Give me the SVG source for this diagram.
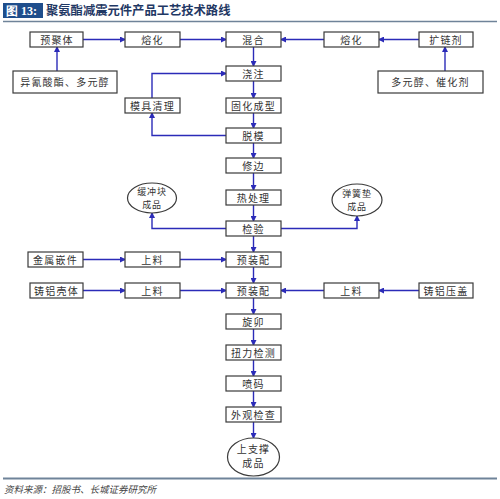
<svg xmlns="http://www.w3.org/2000/svg" width="500" height="499" viewBox="0 0 500 499">
<style>
.bx{fill:#fff;stroke:#3a3a3a;stroke-width:1.2}
.t{font-family:"Noto Sans CJK SC","Noto Sans",sans-serif;font-size:10px;fill:#333;text-anchor:middle;letter-spacing:1.2px}
.e{font-family:"Noto Sans CJK SC","Noto Sans",sans-serif;font-size:9px;fill:#333;text-anchor:middle;letter-spacing:0.8px}
.c{fill:none;stroke:#2b2bb8;stroke-width:1.4}
</style>
<defs>
<marker id="ah" markerWidth="6" markerHeight="6" refX="5" refY="3" orient="auto" markerUnits="userSpaceOnUse">
<path d="M0,0 L6,3 L0,6 Z" fill="#2b2bb8"/>
</marker>
</defs>
<rect width="500" height="499" fill="#fff"/>
<g id="title">
<rect x="3" y="3" width="40" height="15" fill="#1f4e8c"/>
<text x="6" y="15" font-family="Liberation Serif,serif" font-size="12" font-weight="bold" fill="#fff">图 13:</text>
<text x="46" y="15" font-family="Noto Sans CJK SC,sans-serif" font-size="12.3" font-weight="bold" fill="#1f3864">聚氨酯减震元件产品工艺技术路线</text>
<line x1="3" y1="21.5" x2="497" y2="21.5" stroke="#6f8399" stroke-width="1.5"/>
</g>
<g id="connectors">
<line class="c" x1="83" y1="39.5" x2="125" y2="39.5" marker-end="url(#ah)"/>
<line class="c" x1="180" y1="39.5" x2="226" y2="39.5" marker-end="url(#ah)"/>
<line class="c" x1="419" y1="39.5" x2="379" y2="39.5" marker-end="url(#ah)"/>
<line class="c" x1="324" y1="39.5" x2="281" y2="39.5" marker-end="url(#ah)"/>
<line class="c" x1="57" y1="71" x2="57" y2="47" marker-end="url(#ah)"/>
<line class="c" x1="445" y1="71" x2="445" y2="47" marker-end="url(#ah)"/>
<line class="c" x1="253.5" y1="47" x2="253.5" y2="66" marker-end="url(#ah)"/>
<line class="c" x1="253.5" y1="81" x2="253.5" y2="98" marker-end="url(#ah)"/>
<line class="c" x1="253.5" y1="113" x2="253.5" y2="128" marker-end="url(#ah)"/>
<line class="c" x1="253.5" y1="143" x2="253.5" y2="158" marker-end="url(#ah)"/>
<line class="c" x1="253.5" y1="173" x2="253.5" y2="190" marker-end="url(#ah)"/>
<line class="c" x1="253.5" y1="205" x2="253.5" y2="221" marker-end="url(#ah)"/>
<line class="c" x1="253.5" y1="236" x2="253.5" y2="252" marker-end="url(#ah)"/>
<line class="c" x1="253.5" y1="267" x2="253.5" y2="283" marker-end="url(#ah)"/>
<line class="c" x1="253.5" y1="298" x2="253.5" y2="314" marker-end="url(#ah)"/>
<line class="c" x1="253.5" y1="329" x2="253.5" y2="345" marker-end="url(#ah)"/>
<line class="c" x1="253.5" y1="360" x2="253.5" y2="376" marker-end="url(#ah)"/>
<line class="c" x1="253.5" y1="391" x2="253.5" y2="407" marker-end="url(#ah)"/>
<line class="c" x1="253.5" y1="422" x2="253.5" y2="438" marker-end="url(#ah)"/>
<polyline class="c" points="226,135.5 152,135.5 152,113" marker-end="url(#ah)"/>
<polyline class="c" points="152,98 152,73.5 226,73.5" marker-end="url(#ah)"/>
<polyline class="c" points="226,228.5 152,228.5 152,213" marker-end="url(#ah)"/>
<polyline class="c" points="281,228.5 357,228.5 357,216" marker-end="url(#ah)"/>
<line class="c" x1="83" y1="259.5" x2="125" y2="259.5" marker-end="url(#ah)"/>
<line class="c" x1="180" y1="259.5" x2="226" y2="259.5" marker-end="url(#ah)"/>
<line class="c" x1="83" y1="290.5" x2="125" y2="290.5" marker-end="url(#ah)"/>
<line class="c" x1="180" y1="290.5" x2="226" y2="290.5" marker-end="url(#ah)"/>
<line class="c" x1="419" y1="290.5" x2="379" y2="290.5" marker-end="url(#ah)"/>
<line class="c" x1="324" y1="290.5" x2="281" y2="290.5" marker-end="url(#ah)"/>
</g>
<g id="n-yujuti"><rect class="bx" x="30" y="32" width="53" height="15"/><text class="t" x="57" y="43.5">预聚体</text></g>
<g id="n-ronghua1"><rect class="bx" x="125" y="32" width="55" height="15"/><text class="t" x="152.5" y="43.5">熔化</text></g>
<g id="n-hunhe"><rect class="bx" x="226" y="32" width="55" height="15"/><text class="t" x="253.5" y="43.5">混合</text></g>
<g id="n-ronghua2"><rect class="bx" x="324" y="32" width="55" height="15"/><text class="t" x="351.5" y="43.5">熔化</text></g>
<g id="n-kuolianji"><rect class="bx" x="419" y="32" width="54" height="15"/><text class="t" x="446" y="43.5">扩链剂</text></g>
<g id="n-yiqing"><rect class="bx" x="13" y="71" width="104" height="22"/><text class="t" x="65" y="86">异氰酸酯、多元醇</text></g>
<g id="n-duoyuan"><rect class="bx" x="378" y="71" width="105" height="22"/><text class="t" x="430.5" y="86">多元醇、催化剂</text></g>
<g id="n-jiaozhu"><rect class="bx" x="226" y="66" width="55" height="15"/><text class="t" x="253.5" y="77.5">浇注</text></g>
<g id="n-muju"><rect class="bx" x="125" y="98" width="55" height="15"/><text class="t" x="152.5" y="109.5">模具清理</text></g>
<g id="n-guhua"><rect class="bx" x="226" y="98" width="55" height="15"/><text class="t" x="253.5" y="109.5">固化成型</text></g>
<g id="n-tuomo"><rect class="bx" x="226" y="128" width="55" height="15"/><text class="t" x="253.5" y="139.5">脱模</text></g>
<g id="n-xiubian"><rect class="bx" x="226" y="158" width="55" height="15"/><text class="t" x="253.5" y="169.5">修边</text></g>
<g id="n-rechuli"><rect class="bx" x="226" y="190" width="55" height="15"/><text class="t" x="253.5" y="201.5">热处理</text></g>
<g id="n-jianyan"><rect class="bx" x="226" y="221" width="55" height="15"/><text class="t" x="253.5" y="232.5">检验</text></g>
<g id="n-huanchong"><ellipse class="bx" cx="152" cy="198" rx="24.5" ry="15"/><text class="e" x="152" y="195">缓冲块</text><text class="e" x="152" y="207.5">成品</text></g>
<g id="n-tanhuang"><ellipse class="bx" cx="357" cy="200" rx="25" ry="16"/><text class="e" x="357" y="197">弹簧垫</text><text class="e" x="357" y="209.5">成品</text></g>
<g id="n-jinshu"><rect class="bx" x="28" y="252" width="55" height="15"/><text class="t" x="55.5" y="263.5">金属嵌件</text></g>
<g id="n-shangliao1"><rect class="bx" x="125" y="252" width="55" height="15"/><text class="t" x="152.5" y="263.5">上料</text></g>
<g id="n-yuzhuang1"><rect class="bx" x="226" y="252" width="55" height="15"/><text class="t" x="253.5" y="263.5">预装配</text></g>
<g id="n-zhulvketi"><rect class="bx" x="30" y="283" width="53" height="15"/><text class="t" x="56.5" y="294.5">铸铝壳体</text></g>
<g id="n-shangliao2"><rect class="bx" x="125" y="283" width="55" height="15"/><text class="t" x="152.5" y="294.5">上料</text></g>
<g id="n-yuzhuang2"><rect class="bx" x="226" y="283" width="55" height="15"/><text class="t" x="253.5" y="294.5">预装配</text></g>
<g id="n-shangliao3"><rect class="bx" x="324" y="283" width="55" height="15"/><text class="t" x="351.5" y="294.5">上料</text></g>
<g id="n-zhulvyagai"><rect class="bx" x="419" y="283" width="54" height="15"/><text class="t" x="446" y="294.5">铸铝压盖</text></g>
<g id="n-xuanmao"><rect class="bx" x="226" y="314" width="55" height="15"/><text class="t" x="253.5" y="325.5">旋卯</text></g>
<g id="n-niuli"><rect class="bx" x="226" y="345" width="55" height="15"/><text class="t" x="253.5" y="356.5">扭力检测</text></g>
<g id="n-penma"><rect class="bx" x="226" y="376" width="55" height="15"/><text class="t" x="253.5" y="387.5">喷码</text></g>
<g id="n-waiguan"><rect class="bx" x="226" y="407" width="55" height="15"/><text class="t" x="253.5" y="418.5">外观检查</text></g>
<g id="n-shangzhicheng"><ellipse class="bx" cx="253.5" cy="457" rx="26" ry="19"/><text class="t" x="253.5" y="453">上支撑</text><text class="t" x="253.5" y="467">成品</text></g>
<g id="footer">
<line x1="3" y1="478.5" x2="497" y2="478.5" stroke="#6f8399" stroke-width="2"/>
<text x="4" y="493" font-family="Noto Sans CJK SC,sans-serif" font-size="9.5" font-style="italic" fill="#444">资料来源：招股书、长城证券研究所</text>
</g>
</svg>
